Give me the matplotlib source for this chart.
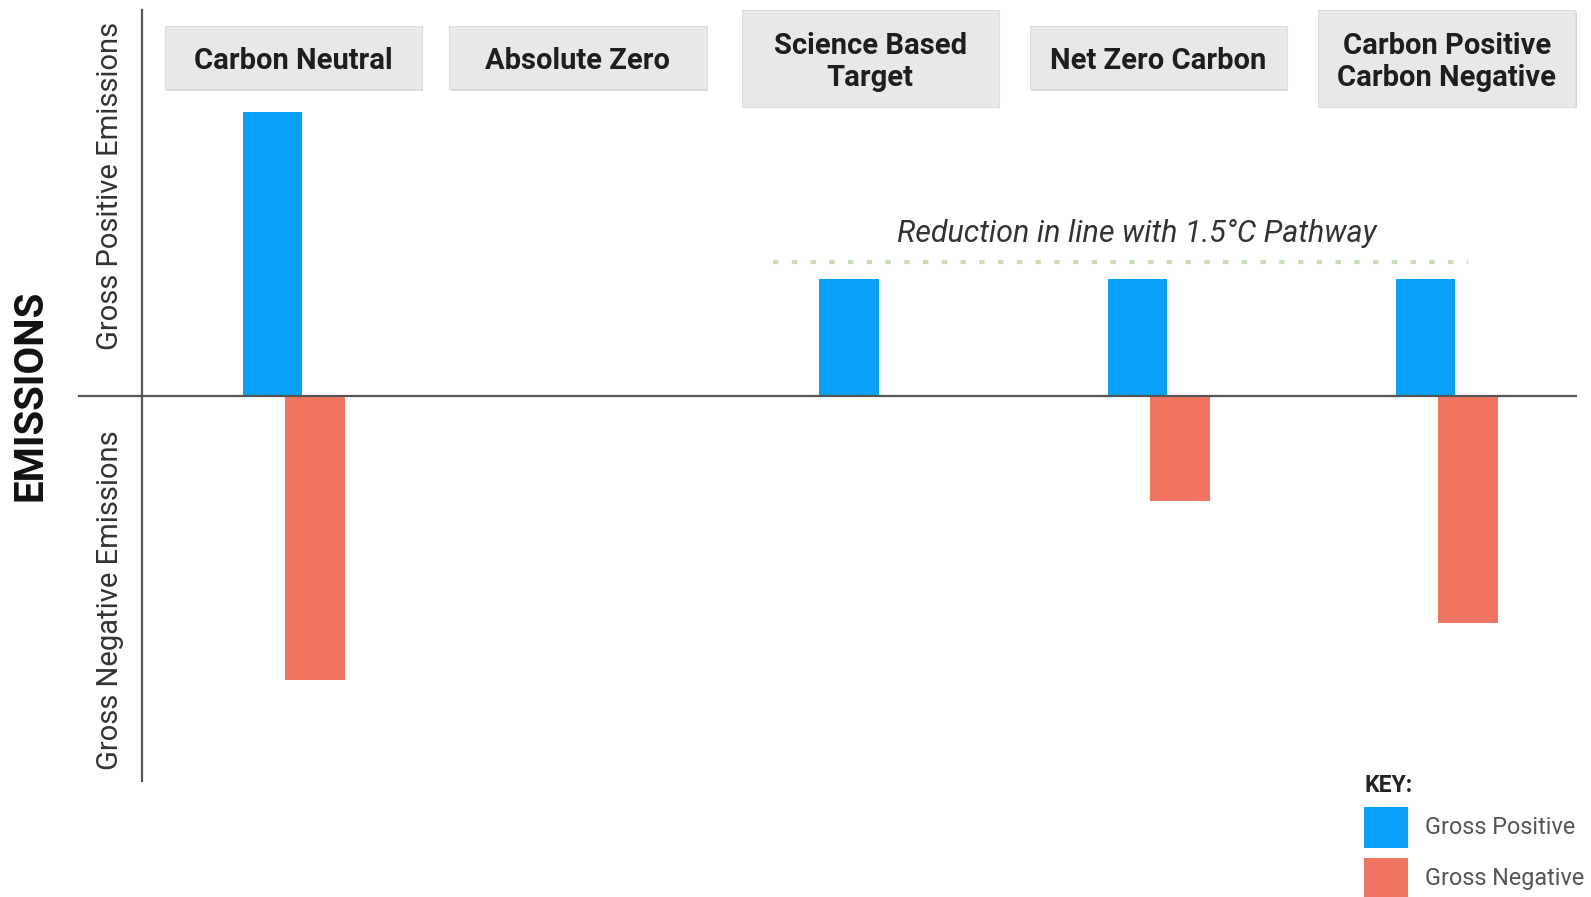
import numpy as np
import matplotlib.pyplot as plt
from matplotlib.patches import Rectangle

# Emission profiles for each net-zero definition (relative units, Carbon Neutral positive = 100)
categories = ['Carbon Neutral', 'Absolute Zero', 'Science Based\nTarget',
              'Net Zero Carbon', 'Carbon Positive\nCarbon Negative']
gross_positive = [100, 0, 41, 41, 41]
gross_negative = [-100, 0, 0, -37, -80]
pathway_level = 47
legend_labels = ['Gross Positive', 'Gross Negative']

BLUE = '#07A2F5'
SALMON = '#EF7562'
BOX = '#E8E8E8'
AXIS = '#555555'
TEXT = '#1E1E1E'

W, H = 1591, 897
fig = plt.figure(figsize=(W / 100, H / 100), dpi=100)
ax = fig.add_axes([0, 0, 1, 1])
ax.set_xlim(-1.019, 4.50)
ax.set_ylim(-176.5, 139.3)
ax.axis('off')


def fx(px):
    return px / W


def fy(py):
    return 1 - py / H


x = np.arange(len(categories))
bar_w = 0.207
offset = 0.0736
ax.bar(x - offset, gross_positive, bar_w, color=BLUE, zorder=3)
ax.bar(x + offset, gross_negative, bar_w, color=SALMON, zorder=3)

# axis cross
ax.axhline(0, xmin=fx(79), xmax=fx(1576), color=AXIS, lw=1.6, zorder=4)
ax.axvline(-0.526, ymin=fy(781), ymax=fy(10), color=AXIS, lw=1.6, zorder=4)

# category header boxes
box_w = 0.892
box_x = x + np.array([0, -0.014, 0, 0, 0])
for xi, label in zip(box_x, categories):
    if '\n' in label:
        y0, y1 = 101.8, 135.7
    else:
        y0, y1 = 107.9, 130.0
    shadow = Rectangle((xi - box_w / 2 + 0.004, y0 - 0.6), box_w, y1 - y0,
                       facecolor='#D6D6D6', edgecolor='none', zorder=1)
    box = Rectangle((xi - box_w / 2, y0), box_w, y1 - y0,
                    facecolor=BOX, edgecolor='#DCDCDC', lw=0.8, zorder=2)
    ax.add_patch(shadow)
    ax.add_patch(box)
    ax.text(xi, (y0 + y1) / 2 - 1.2, label, ha='center', va='center', fontsize=21,
            fontweight='bold', family='Roboto', color=TEXT, linespacing=1.2, zorder=5)

# 1.5C pathway reference
ax.hlines(pathway_level, x[2] - 0.337, x[4] + 0.073, colors='#C9DDB9', lw=3,
          linestyles=(0, (1.3, 3.2)), zorder=2)
ax.text(2.923, 57.1, 'Reduction in line with 1.5\u00b0C Pathway', ha='center', va='center',
        fontsize=22, style='italic', family='Roboto', color='#333333')

# side labels
fig.text(fx(31), fy(395), 'EMISSIONS', rotation=90, ha='center', va='center',
         fontsize=29, fontweight='bold', family='Roboto', color='#111111')
fig.text(fx(110), fy(186), 'Gross Positive Emissions', rotation=90, ha='center', va='center',
         fontsize=21, family='Roboto', color='#333333')
fig.text(fx(110), fy(600), 'Gross Negative Emissions', rotation=90, ha='center', va='center',
         fontsize=21, family='Roboto', color='#333333')

# key
fig.text(fx(1364), fy(785), 'KEY:', ha='left', va='center', fontsize=16.5,
         fontweight='bold', family='Roboto', color='#222222')
for i, (lab, col) in enumerate(zip(legend_labels, [BLUE, SALMON])):
    top = 807 + i * 51
    fig.patches.append(Rectangle((fx(1364), fy(top + 41)), fx(44), 41 / H,
                                 transform=fig.transFigure, facecolor=col, edgecolor='none'))
    fig.text(fx(1425), fy(top + 20), lab, ha='left', va='center', fontsize=16.8,
             family='Roboto', color='#555555')

fig.savefig('out.png', dpi=100)
